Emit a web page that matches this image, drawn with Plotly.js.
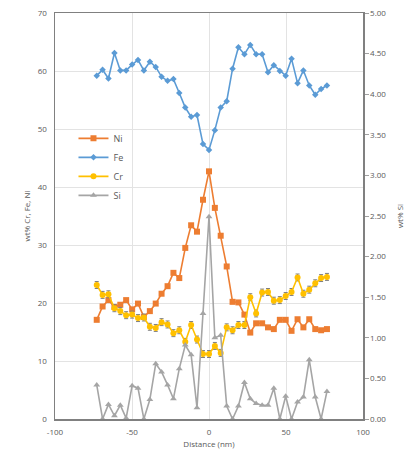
<!DOCTYPE html>
<html>
<head>
<meta charset="utf-8">
<script src="https://cdn.plot.ly/plotly-3.0.1.min.js"></script>
<style>html,body{margin:0;padding:0;background:#fff;}#chart{width:405px;height:449px;}</style>
</head>
<body>
<div id="chart"></div>
<script>
// Distance (nm)
const distance = [-72.9,-69.1,-65.3,-61.4,-57.6,-53.8,-49.9,-46.1,-42.3,-38.4,-34.6,-30.8,-26.9,-23.1,-19.3,-15.4,-11.6,-7.8,-3.9,0,
                  3.8,7.6,11.5,15.3,19.1,23.0,26.8,30.6,34.5,38.3,42.1,46.0,49.8,53.6,57.5,61.3,65.1,69.0,72.8,76.6];
const ni = [17.1,19.4,20.5,19.3,19.7,20.5,18.9,19.9,17.6,18.6,19.9,21.6,22.9,25.2,24.3,29.5,33.4,32.3,37.8,42.7,
            36.4,31.6,26.3,20.2,20.1,18.0,14.9,16.5,16.5,15.8,15.5,17.1,17.1,15.2,17.2,15.8,17.2,15.5,15.3,15.5];
const fe = [59.2,60.2,58.7,63.1,60.1,60.1,61.1,61.9,60.1,61.6,60.7,59.0,58.3,58.6,56.2,53.7,52.1,52.4,47.4,46.4,
            49.8,53.7,54.8,60.4,64.1,62.9,64.5,62.9,62.9,59.8,61.0,60.0,59.2,62.1,57.9,60.1,57.5,55.9,56.9,57.5];
const cr = [23.1,21.4,21.5,19.1,18.6,17.9,18.0,17.4,17.5,15.9,15.7,16.7,16.3,14.8,15.3,13.3,16.2,13.7,11.2,11.2,
            12.6,11.4,15.8,15.3,16.2,16.2,21.0,18.2,21.8,21.9,20.4,20.5,21.2,21.9,24.4,21.6,22.3,23.4,24.3,24.5];
const crErr = [0.6,0.6,0.6,0.6,0.6,0.6,0.6,0.6,0.6,0.6,0.6,0.6,0.6,0.6,0.6,0.6,0.6,0.6,0.6,0.6,
               0.6,0.6,0.6,0.6,0.6,0.6,0.6,0.6,0.6,0.6,0.6,0.6,0.6,0.6,0.6,0.6,0.6,0.6,0.6,0.6];
// wt% Si (secondary axis)
const si = [0.42,0.00,0.18,0.04,0.17,0.01,0.41,0.38,0.00,0.24,0.68,0.58,0.42,0.25,0.62,0.91,0.79,0.14,1.30,2.49,
            1.00,1.03,0.16,0.00,0.16,0.45,0.25,0.19,0.17,0.17,0.38,0.00,0.28,0.00,0.21,0.27,0.73,0.27,0.00,0.34];
const leftTicks = [0,10,20,30,40,50,60,70];
const rightTicks = [0,0.5,1,1.5,2,2.5,3,3.5,4,4.5,5];
const xTicks = [-100,-50,0,50,100];

const txt = '#595959';
const grid = '#e3e3e3';
const axisLine = '#808080';

const traces = [
  {x: distance, y: ni, name: 'Ni', type: 'scatter', mode: 'lines+markers',
   line: {color: '#ED7D31', width: 1.6}, marker: {symbol: 'square', size: 6, color: '#ED7D31'}},
  {x: distance, y: fe, name: 'Fe', type: 'scatter', mode: 'lines+markers',
   line: {color: '#5B9BD5', width: 1.6}, marker: {symbol: 'diamond', size: 5, color: '#5B9BD5'}},
  {x: distance, y: cr, name: 'Cr', type: 'scatter', mode: 'lines+markers',
   line: {color: '#FFC000', width: 1.6}, marker: {symbol: 'circle', size: 6, color: '#FFC000'},
   error_y: {type: 'data', array: crErr, visible: true, color: '#7f7f7f', thickness: 1, width: 2}},
  {x: distance, y: si, name: 'Si', type: 'scatter', mode: 'lines+markers', yaxis: 'y2',
   line: {color: '#A5A5A5', width: 1.6}, marker: {symbol: 'triangle-up', size: 6, color: '#A5A5A5'}}
];

const layout = {
  width: 405, height: 449,
  margin: {l: 55, r: 42, t: 13, b: 30},
  paper_bgcolor: '#fff', plot_bgcolor: '#fff',
  font: {family: 'Open Sans, Liberation Sans, sans-serif', size: 8, color: txt},
  showlegend: true,
  legend: {x: 0.06, y: 0.727, xanchor: 'left', yanchor: 'top', bgcolor: 'rgba(255,255,255,0)',
           font: {size: 9, color: txt}, tracegroupgap: 0, itemwidth: 30},
  xaxis: {range: [-100, 100], tickvals: xTicks, ticktext: xTicks.map(String),
          showgrid: true, gridcolor: grid, gridwidth: 1, zeroline: false,
          showline: true, linecolor: axisLine, linewidth: 1.5, mirror: true, ticks: '',
          ticklabelstandoff: 5,
          tickfont: {size: 8, color: txt},
          title: {text: 'Distance (nm)', font: {size: 8, color: txt}, standoff: 6}},
  yaxis: {range: [0, 70], tickvals: leftTicks, ticktext: leftTicks.map(String),
          showgrid: true, gridcolor: grid, gridwidth: 1, zeroline: false,
          showline: true, linecolor: axisLine, linewidth: 1.5, mirror: true, ticks: '',
          ticklabelstandoff: 5,
          tickfont: {size: 8, color: txt},
          title: {text: 'wt% Cr, Fe, Ni', font: {size: 8, color: txt}, standoff: 6}},
  yaxis2: {range: [0, 5], overlaying: 'y', side: 'right', tickvals: rightTicks,
           ticktext: rightTicks.map(v => v.toFixed(2)),
           showgrid: false, zeroline: false, showline: true, linecolor: axisLine, linewidth: 1.5,
           ticks: 'outside', ticklen: 4, tickcolor: '#a0a0a0',
           tickfont: {size: 8, color: txt},
           title: {text: 'wt% Si', font: {size: 8, color: txt}, standoff: 19}}
};

Plotly.newPlot('chart', traces, layout, {displayModeBar: false, staticPlot: true});
</script>
</body>
</html>
